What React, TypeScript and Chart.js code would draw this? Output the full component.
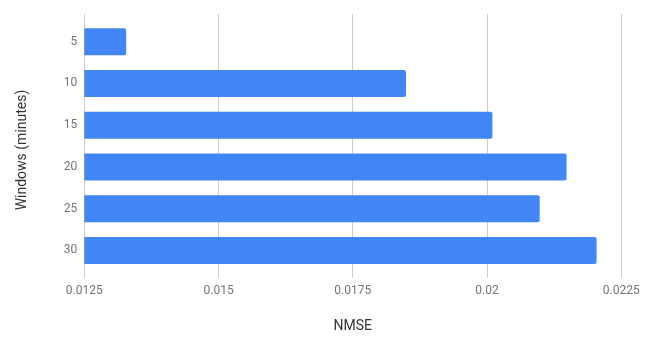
import React, { useEffect, useRef } from "react";
import { Chart, registerables } from "chart.js";

Chart.register(...registerables);

const categories = ["5", "10", "15", "20", "25", "30"];
const nmseValues = [0.01328, 0.01849, 0.0201, 0.02148, 0.02098, 0.02204];
const xTickValues = [0.0125, 0.015, 0.0175, 0.02, 0.0225];
const xTitle = "NMSE";
const yTitle = "Windows (minutes)";

const FONT = "Roboto, 'Noto Sans', Arial, sans-serif";

const yTitlePlugin = {
  id: "yTitlePlugin",
  afterDraw(chart: any) {
    const ctx = chart.ctx;
    ctx.save();
    ctx.translate(22.5, 150);
    ctx.rotate(-Math.PI / 2);
    ctx.font = `14px ${FONT}`;
    ctx.fillStyle = "#333333";
    ctx.textAlign = "center";
    ctx.textBaseline = "middle";
    ctx.fillText(yTitle, 0, 0);
    ctx.restore();
  },
};

export default function App() {
  const ref = useRef<HTMLCanvasElement | null>(null);

  useEffect(() => {
    if (!ref.current) return;
    const chart = new Chart(ref.current, {
      type: "bar",
      data: {
        labels: categories,
        datasets: [
          {
            data: nmseValues,
            backgroundColor: "#4285F4",
            borderRadius: 2,
            borderSkipped: false,
            barPercentage: 0.65,
            categoryPercentage: 1,
          },
        ],
      },
      plugins: [yTitlePlugin],
      options: {
        indexAxis: "y",
        animation: false,
        responsive: false,
        maintainAspectRatio: false,
        layout: { padding: { left: 0, top: 10, right: 32.7, bottom: 0 } },
        plugins: {
          legend: { display: false },
          tooltip: { enabled: false },
        },
        scales: {
          x: {
            type: "linear",
            min: 0.0125,
            max: 0.0225,
            afterBuildTicks: (scale: any) => {
              scale.ticks = xTickValues.map((v) => ({ value: v }));
            },
            afterFit: (scale: any) => {
              scale.height = 59;
            },
            grid: {
              color: "#cccccc",
              drawTicks: false,
              lineWidth: 1,
            },
            border: { display: false },
            ticks: {
              padding: 6,
              color: "#757575",
              font: { family: FONT, size: 12 },
              callback: (v: any) => String(v),
            },
            title: {
              display: true,
              text: xTitle,
              color: "#333333",
              font: { family: FONT, size: 14 },
              padding: { top: 0, bottom: 2.6 },
            },
          },
          y: {
            type: "category",
            offset: true,
            afterBuildTicks: (scale: any) => {
              scale._valueRange = 6.32;
              scale._startValue = -0.66;
            },
            afterFit: (scale: any) => {
              scale.width = 84.3;
            },
            grid: { display: false, drawTicks: false },
            border: { display: false },
            ticks: {
              padding: 7,
              color: "#757575",
              font: { family: FONT, size: 12 },
            },
          },
        },
      },
    } as any);
    return () => chart.destroy();
  }, []);

  return (
    <div style={{ position: "fixed", left: 0, top: 0, width: 654, height: 337, background: "#fff" }}>
      <canvas ref={ref} width={654} height={337} style={{ width: 654, height: 337, display: "block" }} />
    </div>
  );
}
